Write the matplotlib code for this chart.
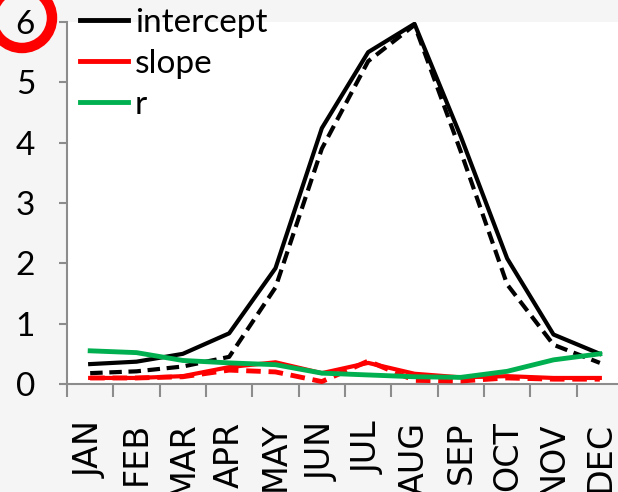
import matplotlib
matplotlib.use("Agg")
import matplotlib.pyplot as plt
from matplotlib.patches import Circle
from matplotlib.transforms import IdentityTransform

months = ["JAN", "FEB", "MAR", "APR", "MAY", "JUN",
          "JUL", "AUG", "SEP", "OCT", "NOV", "DEC"]
intercept_obs = [0.33, 0.37, 0.50, 0.84, 1.92, 4.24, 5.50, 5.97, 4.10, 2.08, 0.82, 0.50]
intercept_fit = [0.18, 0.21, 0.29, 0.45, 1.60, 3.90, 5.35, 5.95, 3.85, 1.65, 0.65, 0.35]
slope_obs = [0.10, 0.10, 0.13, 0.28, 0.36, 0.18, 0.35, 0.17, 0.11, 0.13, 0.10, 0.10]
slope_fit = [0.10, 0.10, 0.12, 0.23, 0.20, 0.04, 0.38, 0.06, 0.05, 0.10, 0.08, 0.08]
r_obs = [0.55, 0.52, 0.39, 0.35, 0.32, 0.18, 0.15, 0.12, 0.11, 0.21, 0.40, 0.50]
yticks = [0, 1, 2, 3, 4, 5, 6]

W, H = 618, 492
fig = plt.figure(figsize=(W / 100, H / 100), dpi=100, facecolor="#f5f5f5")
ax = fig.add_axes([67 / W, 108 / H, 556 / W, 362 / H])
ax.set_facecolor("white")

x = list(range(len(months)))
dash = (3, 1.6)
ax.plot(x, intercept_fit, color="black", lw=3, linestyle=(0, dash), zorder=2)
ax.plot(x, intercept_obs, color="black", lw=3, label="intercept", zorder=3)
ax.plot(x, slope_fit, color="#ff0000", lw=3.5, linestyle=(0, dash), zorder=4)
ax.plot(x, slope_obs, color="#ff0000", lw=3, label="slope", zorder=5)
ax.plot(x, r_obs, color="#00b050", lw=3.5, label="r", zorder=6)

ax.set_xlim(-0.5, len(months) - 0.5)
ax.set_ylim(0, 6)
ax.set_yticks(yticks)
ax.set_xticks(x)
ax.set_xticklabels(months, rotation=90, fontsize=24, family="DejaVu Sans", va="top")
ax.set_xticks([i - 0.5 for i in range(len(months) + 1)], minor=True)
ax.tick_params(axis="x", which="major", length=0, pad=27)
ax.tick_params(axis="x", which="minor", length=9, width=1.5, color="#8c8c8c", direction="out")
ax.tick_params(axis="y", length=6, width=1.5, color="#8c8c8c", pad=17, labelsize=24)
for lab in ax.get_yticklabels():
    lab.set_family("Lato")

for s in ["top", "right"]:
    ax.spines[s].set_visible(False)
for s in ["left", "bottom"]:
    ax.spines[s].set_color("#8c8c8c")
    ax.spines[s].set_linewidth(1.5)

leg = ax.legend(loc="upper left", bbox_to_anchor=(80 / W, 1 - 8 / H),
                bbox_transform=fig.transFigure, frameon=False,
                prop={"family": "Lato", "size": 24},
                handlelength=1.45, handletextpad=0.2, labelspacing=0.33,
                borderpad=0.0, borderaxespad=0.0)
for line in leg.get_lines():
    line.set_linewidth(3.5)

ring = Circle((22, H - 18), 30, transform=IdentityTransform(), fill=False,
              edgecolor="#ff0000", linewidth=7.5, zorder=10)
fig.patches.append(ring)

fig.savefig("out.png", dpi=100, facecolor=fig.get_facecolor())
